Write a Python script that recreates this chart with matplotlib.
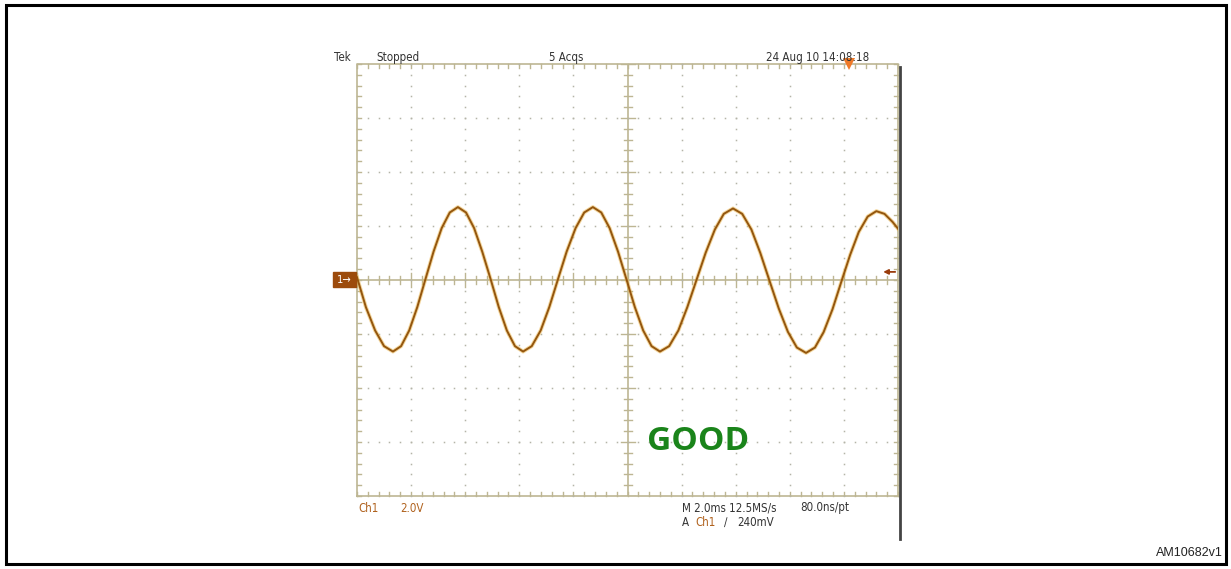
import matplotlib
matplotlib.use("Agg")
import matplotlib.pyplot as plt
import numpy as np

# trace: time in ms, level in V (2 ms/div, 2 V/div)
t_ms = [0.00, 0.33, 0.67, 1.00,
        1.33, 1.63, 1.93, 2.23, 2.53, 2.83, 3.13, 3.43,
        3.73, 4.03, 4.33, 4.63, 4.94, 5.24, 5.54, 5.84,
        6.14, 6.46, 6.79, 7.11, 7.43, 7.75, 8.08, 8.40,
        8.72, 9.03, 9.34, 9.65, 9.96, 10.27, 10.58, 10.89,
        11.20, 11.54, 11.88, 12.21, 12.55, 12.89, 13.23, 13.56,
        13.90, 14.24, 14.58, 14.91, 15.25, 15.59, 15.93, 16.26,
        16.60, 16.93, 17.25, 17.58, 17.90, 18.23, 18.55, 18.88,
        19.20, 19.50, 19.80, 20.00]
v_volts = [0.10, -1.01, -1.87, -2.45,
           -2.65, -2.45, -1.87, -1.00, 0.03, 1.05, 1.92, 2.50,
           2.70, 2.50, 1.92, 1.05, 0.03, -1.00, -1.87, -2.45,
           -2.65, -2.45, -1.87, -1.00, 0.03, 1.05, 1.92, 2.50,
           2.70, 2.50, 1.92, 1.05, 0.03, -1.00, -1.87, -2.45,
           -2.65, -2.45, -1.87, -1.01, 0.00, 1.01, 1.87, 2.45,
           2.65, 2.45, 1.87, 1.00, -0.03, -1.05, -1.92, -2.50,
           -2.70, -2.50, -1.93, -1.08, -0.08, 0.93, 1.78, 2.35,
           2.55, 2.45, 2.15, 1.90]

header = ["Tek", "Stopped", "5 Acqs", "24 Aug 10 14:08:18"]
footer_left = ["Ch1", "2.0V"]
footer_right = ["M 2.0ms 12.5MS/s", "80.0ns/pt"]
trig_line = ["A", "Ch1", "\u2215", "240mV"]
verdict = "GOOD"
fig_id = "AM10682v1"

W, H = 1231, 569
fig = plt.figure(figsize=(W / 100, H / 100), dpi=100)

def fx(px):
    return px / W

def fy(py):
    return 1 - py / H

# outer frame
fig.add_artist(plt.Rectangle((fx(6), fy(564)), fx(1220), (564 - 5) / H,
                             fill=False, ec="black", lw=2.2,
                             transform=fig.transFigure))

gl, gr, gt, gb = 357, 898, 64, 496
ax = fig.add_axes([fx(gl), fy(gb), fx(gr - gl), (gb - gt) / H])
ax.set_xlim(0, 20)
ax.set_ylim(-8, 8)
ax.axis("off")

gcol = "#bdb693"
dcol = "#b4b4a8"
pxx = 20 / (gr - gl)   # ms per pixel
pxy = 16 / (gb - gt)   # V per pixel

# frame of graticule
ax.plot([0, 20, 20, 0, 0], [-8, -8, 8, 8, -8], color=gcol, lw=1.2, clip_on=False)
# centre cross
ax.axhline(0, color=gcol, lw=1.2)
ax.axvline(10, color=gcol, lw=1.2)

minor_x = np.arange(0, 20.01, 0.4)
minor_y = np.arange(-8, 8.01, 0.4)
for x in minor_x:
    major = abs(x / 2 - round(x / 2)) < 1e-6
    L = (7 if major else 4) * pxy
    ax.plot([x, x], [-L, L], color=gcol, lw=1.0)
    ax.plot([x, x], [8, 8 - 4 * pxy], color=gcol, lw=1.0, clip_on=False)
    ax.plot([x, x], [-8, -8 + 4 * pxy], color=gcol, lw=1.0, clip_on=False)
for y in minor_y:
    major = abs(y / 2 - round(y / 2)) < 1e-6
    L = (7 if major else 4) * pxx
    ax.plot([10 - L, 10 + L], [y, y], color=gcol, lw=1.0)
    ax.plot([0, 4 * pxx], [y, y], color=gcol, lw=1.0, clip_on=False)
    ax.plot([20, 20 - 4 * pxx], [y, y], color=gcol, lw=1.0, clip_on=False)

# dotted grid
for x in np.arange(2, 20, 2):
    if x == 10:
        continue
    ax.plot(np.full_like(minor_y, x), minor_y, ls="none", marker="s",
            ms=1.1, color=dcol, mew=0)
for y in np.arange(-6, 7, 2):
    if y == 0:
        continue
    ax.plot(minor_x, np.full_like(minor_x, y), ls="none", marker="s",
            ms=1.1, color=dcol, mew=0)

# the trace
ax.plot(t_ms, v_volts, color="#e8b040", lw=2.8, alpha=0.5, solid_joinstyle="round")
ax.plot(t_ms, v_volts, color="#94560e", lw=1.4, solid_joinstyle="round")

# trigger position marker
ax.plot([18.2], [8.0], marker="v", ms=8, color="#f07a28", mew=0, clip_on=False)
# trigger level arrow
ax.annotate("", xy=(19.35, 0.3), xytext=(20.0, 0.3),
            arrowprops=dict(arrowstyle="-|>", color="#9a3c0c", lw=1.3,
                            mutation_scale=7), annotation_clip=False)

# right edge of the screenshot
fig.add_artist(plt.Line2D([fx(900), fx(900)], [fy(67), fy(539)], color="#444444",
                          lw=2.0, transform=fig.transFigure))

fam = ["DejaVu Sans"]
# channel-1 ground marker
fig.add_artist(plt.Rectangle((fx(333), fy(287)), fx(23), 15 / H, color="#9c4b0c",
                             transform=fig.transFigure))
fig.text(fx(344.5), fy(280), "1\u2192", color="white", fontsize=8, ha="center",
         va="center", family=fam, fontstretch="condensed")

tcol = "#333333"
ocol = "#b0621e"
fs = 8.3
kw = dict(fontsize=fs, family=fam, fontstretch="condensed", va="center")
fig.text(fx(334), fy(57), header[0], color=tcol, **kw)
fig.text(fx(376), fy(57), header[1], color=tcol, **kw)
fig.text(fx(549), fy(57), header[2], color=tcol, **kw)
fig.text(fx(766), fy(57), header[3], color=tcol, **kw)

fig.text(fx(358), fy(508), footer_left[0], color=ocol, **kw)
fig.text(fx(400), fy(508), footer_left[1], color=ocol, **kw)
fig.text(fx(682), fy(508), footer_right[0], color=tcol, **kw)
fig.text(fx(800), fy(508), footer_right[1], color=tcol, **kw)
fig.text(fx(682), fy(522), trig_line[0], color=tcol, **kw)
fig.text(fx(695), fy(522), trig_line[1], color=ocol, **kw)
fig.text(fx(724), fy(522), trig_line[2], color=tcol, **kw)
fig.text(fx(737), fy(522), trig_line[3], color=tcol, **kw)

fig.text(fx(647), fy(441), verdict, fontsize=24, color="#1a841a", weight="bold",
         family=["Open Sans", "DejaVu Sans"], va="center")

fig.text(fx(1223), fy(553), fig_id, fontsize=9, color="#222222", ha="right",
         va="center", family=["Liberation Sans", "DejaVu Sans"])

fig.savefig("out.png", dpi=100)
